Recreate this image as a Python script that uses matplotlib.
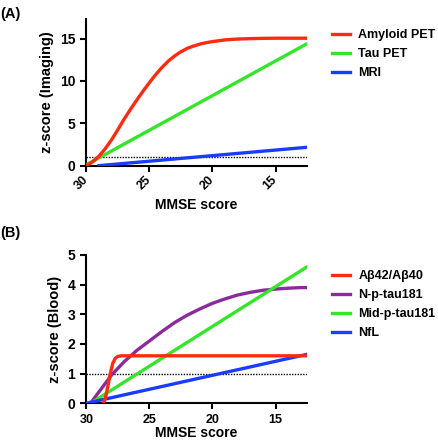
import matplotlib
matplotlib.use("Agg")
import matplotlib.pyplot as plt

plt.rcParams['font.family'] = ['Liberation Sans', 'DejaVu Sans']
plt.rcParams['font.weight'] = 'bold'

# (A) imaging markers vs MMSE
amyloid_x = [30, 29.5, 29, 28.5, 28, 27.5, 27, 26.5, 26, 25.5, 25, 24.5, 24, 23.5,
             23, 22.5, 22, 21.5, 21, 20.5, 20, 19, 18, 17, 16, 15, 14, 12.5]
amyloid_y = [0, 0.45, 1.1, 2.0, 3.05, 4.25, 5.5, 6.65, 7.75, 8.8, 9.8, 10.75, 11.6, 12.35,
             12.95, 13.45, 13.85, 14.12, 14.35, 14.52, 14.65, 14.85, 14.95, 15.0, 15.03, 15.05, 15.05, 15.05]
tau_x = [30, 12.5]
tau_y = [0.1, 14.4]
mri_x = [29.0, 12.5]
mri_y = [0, 2.17]

# (B) blood markers vs MMSE
ab_x = [28.66, 28.5, 28.3, 28.1, 27.9, 27.7, 27.5, 27.2, 12.5]
ab_y = [0, 0.15, 0.55, 1.0, 1.35, 1.52, 1.58, 1.6, 1.6]
nptau_x = [29.66, 29, 28, 27, 26, 25, 24, 23, 22, 21, 20, 19, 18, 17, 16, 15, 14, 13, 12.5]
nptau_y = [0, 0.38, 0.95, 1.4, 1.78, 2.1, 2.42, 2.72, 2.97, 3.18, 3.37, 3.52, 3.65, 3.74,
           3.81, 3.85, 3.88, 3.9, 3.9]
midptau_x = [29.66, 12.5]
midptau_y = [0, 4.6]
nfl_x = [30, 12.5]
nfl_y = [0, 1.65]

RED = "#FF2A10"
GREEN = "#33E62A"
BLUE = "#1A3CFF"
PURPLE = "#8B2A9A"

fig = plt.figure(figsize=(4.38, 4.40), dpi=100)
axA = fig.add_axes([0.197, 0.6235, 0.504, 0.333])
axB = fig.add_axes([0.197, 0.0835, 0.504, 0.337])

lw = 2.4


def style(ax):
    for s in ['top', 'right']:
        ax.spines[s].set_visible(False)
    for s in ['left', 'bottom']:
        ax.spines[s].set_linewidth(1.5)
    ax.tick_params(width=1.5, length=4.5)
    ax.tick_params(axis='y', labelsize=10)
    ax.tick_params(axis='x', labelsize=9)
    ax.set_xlim(30, 12.5)
    ax.set_xticks([30, 25, 20, 15])
    ax.axhline(1, color='black', linestyle=(0, (1, 1)), linewidth=1.0, zorder=1)


ax = axA
style(ax)
ax.plot(amyloid_x, amyloid_y, color=RED, lw=lw, label="Amyloid PET", zorder=4)
ax.plot(tau_x, tau_y, color=GREEN, lw=lw, label="Tau PET", zorder=3)
ax.plot(mri_x, mri_y, color=BLUE, lw=lw, label="MRI", zorder=3)
ax.set_ylim(0, 17.3)
ax.set_yticks([0, 5, 10, 15])
ax.set_ylabel("z-score (Imaging)", fontsize=10.5, fontweight='bold', labelpad=4)
ax.tick_params(axis='x', pad=4.5)
for t in ax.get_xticklabels():
    t.set_rotation(45)
    t.set_ha('right')
    t.set_va('center')
    t.set_rotation_mode('anchor')
ax.set_xlabel("MMSE score", fontsize=10, fontweight='bold', labelpad=4)
ax.legend(loc='upper left', bbox_to_anchor=(0.747, 0.945), bbox_transform=fig.transFigure,
          frameon=False, fontsize=9, handlelength=1.4, handletextpad=0.7, labelspacing=0.55,
          borderaxespad=0)

ax = axB
style(ax)
ax.plot(ab_x, ab_y, color=RED, lw=lw, label="Aβ42/Aβ40", zorder=4)
ax.plot(nptau_x, nptau_y, color=PURPLE, lw=lw, label="N-p-tau181", zorder=3)
ax.plot(midptau_x, midptau_y, color=GREEN, lw=lw, label="Mid-p-tau181", zorder=3)
ax.plot(nfl_x, nfl_y, color=BLUE, lw=lw, label="NfL", zorder=3)
ax.set_ylim(0, 5)
ax.set_yticks([0, 1, 2, 3, 4, 5])
ax.set_ylabel("z-score (Blood)", fontsize=10.5, fontweight='bold', labelpad=4)
ax.set_xlabel("MMSE score", fontsize=10, fontweight='bold', labelpad=0)
ax.legend(loc='upper left', bbox_to_anchor=(0.747, 0.397), bbox_transform=fig.transFigure,
          frameon=False, fontsize=9, handlelength=1.4, handletextpad=0.7, labelspacing=0.55,
          borderaxespad=0)

fig.text(0.0, 0.985, "(A)", fontsize=10.5, fontweight='bold', va='top', ha='left')
fig.text(0.0, 0.487, "(B)", fontsize=10.5, fontweight='bold', va='top', ha='left')

fig.savefig("out.png", dpi=100)
